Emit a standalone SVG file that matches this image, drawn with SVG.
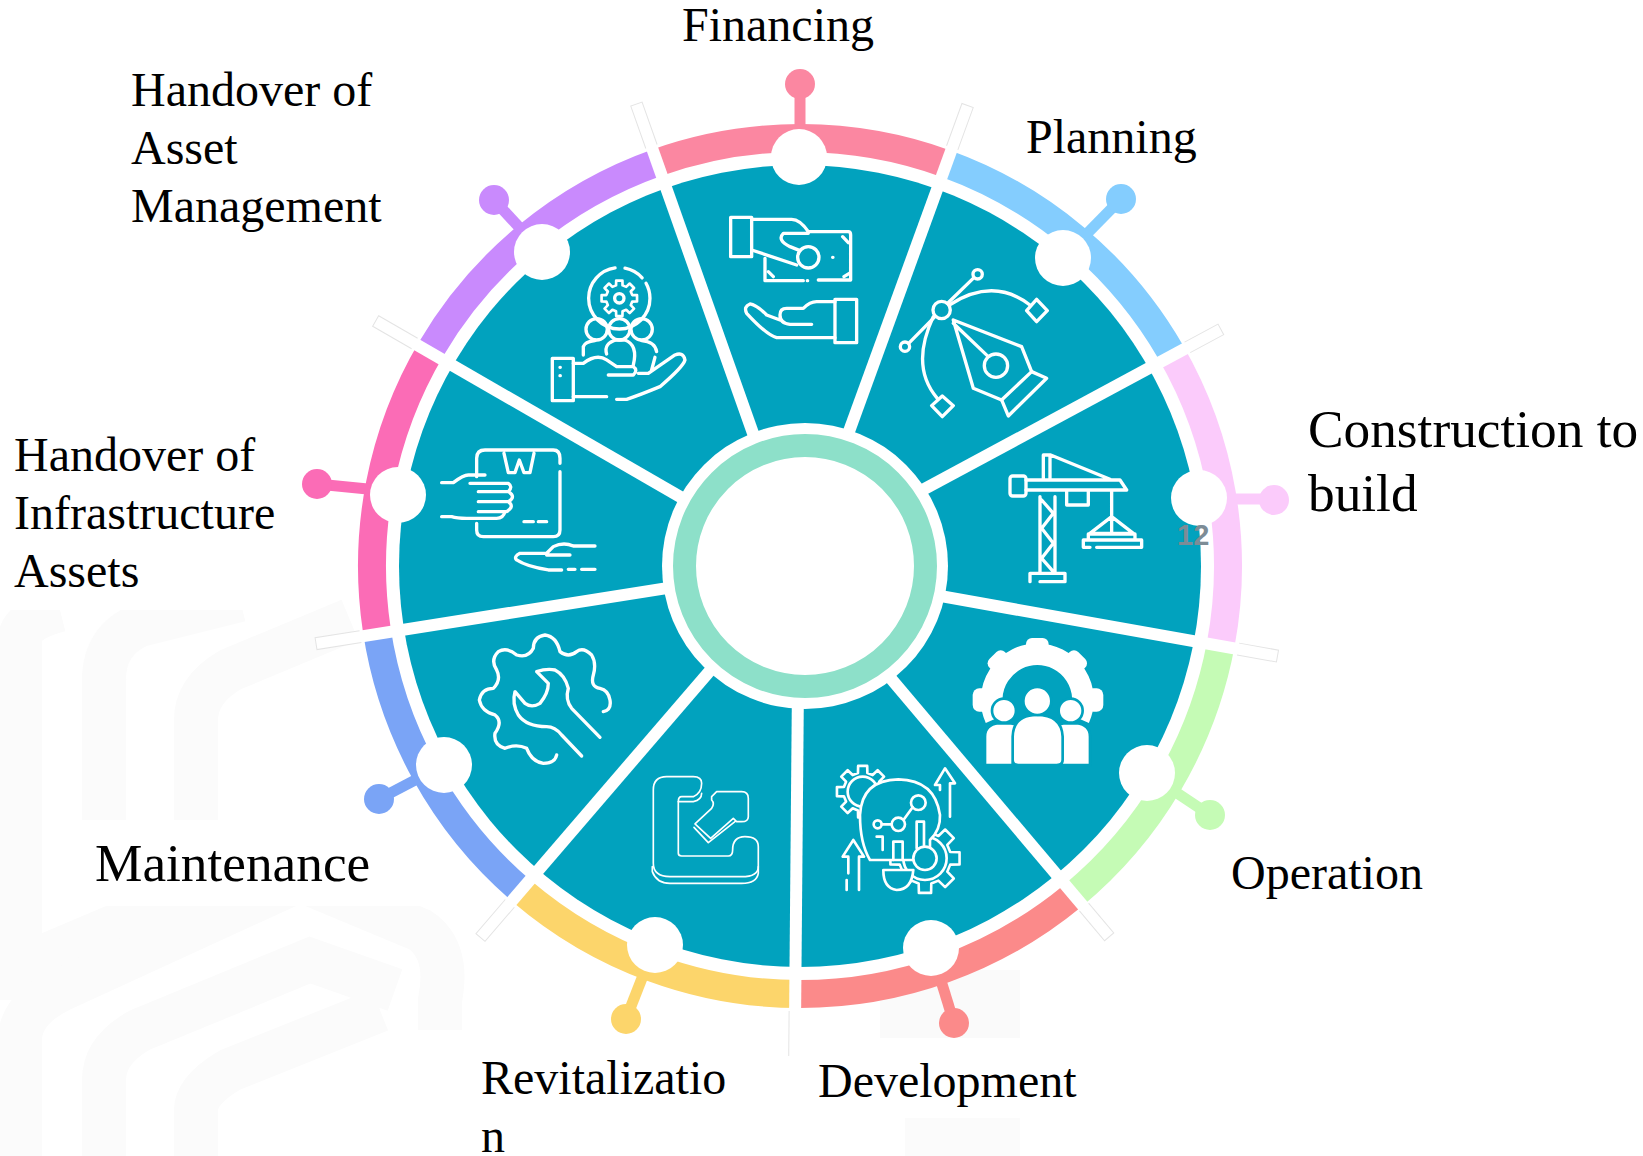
<svg xmlns="http://www.w3.org/2000/svg" xmlns:xlink="http://www.w3.org/1999/xlink" width="1643" height="1156" viewBox="0 0 1643 1156">
<style>
text{font-family:"Liberation Serif","Times New Roman",serif;fill:#000}
.t48{font-size:48px}.t53{font-size:53.3px}
.arc{fill:none;stroke-width:28}
.stem{stroke-width:11;stroke-linecap:butt}
.dot{fill:#fff}
.ic{fill:none;stroke:#fff;stroke-width:10;stroke-linecap:round;stroke-linejoin:round}
.thin{stroke-width:5}
.wm{fill:none;stroke:#fbfbfb;stroke-width:44}
.div{fill:#fff}
.ext{stroke:#e4e4e4;stroke-width:1;fill:none}
</style>
<defs>
<path id="gear" d="M-9.7,-38.8L-9.4,-53.2L9.4,-53.2L9.7,-38.8L20.6,-34.3L31,-44.3L44.3,-31L34.3,-20.6L38.8,-9.7L53.2,-9.4L53.2,9.4L38.8,9.7L34.3,20.6L44.3,31L31,44.3L20.6,34.3L9.7,38.8L9.4,53.2L-9.4,53.2L-9.7,38.8L-20.6,34.3L-31,44.3L-44.3,31L-34.3,20.6L-38.8,9.7L-53.2,9.4L-53.2,-9.4L-38.8,-9.7L-34.3,-20.6L-44.3,-31L-31,-44.3L-20.6,-34.3Z"/>
</defs>
<rect width="1643" height="1156" fill="#fff"/>
<g id="watermark">
<path class="wm" d="M20,1000V640Q20,620 60,610"/>
<path class="wm" d="M104,860V680Q104,640 140,625L240,600"/>
<path class="wm" d="M196,860V720Q196,690 230,670L350,620"/>
<path class="wm" d="M0,975L200,890"/>
<path class="wm" d="M20,1156V1040Q20,1010 60,990L300,880L420,930Q450,950 440,1000V1030"/>
<path class="wm" d="M104,1156V1080Q104,1050 140,1030L310,960L395,990"/>
<path class="wm" d="M196,1156V1110Q196,1090 230,1070L380,1010"/>
<rect x="880" y="970" width="140" height="68" fill="#fafafa"/>
<rect x="905" y="1118" width="115" height="38" fill="#fbfbfb"/>
<rect x="0" y="440" width="304" height="170" fill="#fff"/>
<rect x="82" y="820" width="345" height="86" fill="#fff"/>
<rect x="462" y="1040" width="278" height="116" fill="#fff"/>
</g>
<circle id="disk" cx="800" cy="566" r="401" fill="#01a2be"/>
<g id="financing">
<path class="arc" stroke="#fb87a1" d="M657.1,162.6A428,428 0 0 1 946.4,163.8"/>
<line class="stem" stroke="#fb87a1" x1="800" y1="157" x2="800" y2="84"/><circle cx="800" cy="84" r="15" fill="#fb87a1"/>
<circle class="dot" cx="799" cy="157" r="28"/>
<g class="ic" transform="translate(600,60) scale(.3333)">
<rect x="392" y="472" width="63" height="118"/>
<path d="M455,478H575Q600,478 625,515H745Q752,515 752,525V660H655M610,662H495V595M455,570L590,615M625,520H550Q530,540 570,560L600,572"/>
<circle cx="625" cy="592" r="32"/>
<path d="M728,530L745,548M505,635L520,650M732,650L748,640M698,592h1M622,662h1"/>
<rect x="705" y="718" width="65" height="130"/>
<path d="M705,725H650Q630,725 610,745H560Q540,745 540,765Q540,790 570,793H635M705,833H530Q500,825 440,760Q430,740 450,732Q470,735 500,765L540,780"/>
</g>
<text class="t48" x="682" y="41">Financing</text>
</g>
<g id="planning">
<path class="arc" stroke="#84cdfe" d="M946.4,163.8A428,428 0 0 1 1170.7,352"/>
<line class="stem" stroke="#84cdfe" x1="1063" y1="258" x2="1121" y2="199"/><circle cx="1121" cy="199" r="15" fill="#84cdfe"/>
<circle class="dot" cx="1063" cy="258" r="28"/>
<g class="ic" transform="translate(600,60) scale(.3333)">
<path d="M1060,780L1265,860L1295,935L1205,1020L1120,985ZM1060,790L1165,890"/>
<circle cx="1188" cy="917" r="35"/>
<path d="M1205,1020L1225,1068L1340,955L1295,935"/>
<circle cx="1025" cy="750" r="26"/>
<path d="M1043,730L1122,653M1005,770L926,850"/>
<circle cx="1133" cy="643" r="14"/><circle cx="915" cy="860" r="14"/>
<path d="M1048,735Q1180,650 1290,735M1000,770Q930,920 1012,1015"/>
<path d="M1310,718L1342,752L1310,785L1280,752ZM1027,1008L1060,1037L1027,1070L995,1037Z"/>
</g>
<text class="t48" x="1026" y="153">Planning</text>
</g>
<g id="construction">
<path class="arc" stroke="#fbcbfb" d="M1170.7,352A428,428 0 0 1 1220.8,644"/>
<line class="stem" stroke="#fbcbfb" x1="1199" y1="499" x2="1274" y2="499"/><circle cx="1274" cy="500" r="15" fill="#fbcbfb"/>
<circle class="dot" cx="1199" cy="498" r="28"/>
<g class="ic" transform="translate(940,400) scale(.3333)">
<rect x="210" y="228" width="48" height="60" rx="8"/>
<path d="M258,240H540L560,270H258M310,240V165H332L510,238M330,170V240M380,270V315H445V270M515,270V350M515,350L450,400H580ZM515,355V400M445,402H585V420H445ZM430,420H605V442H470M430,420V442H450"/>
<path d="M300,290V515M345,290V515M305,300L340,340L305,385L340,430L305,475L340,515M270,545V520H375V545H300"/>
</g>
<text class="t53" x="1308" y="447">Construction to</text>
<text class="t53" x="1308" y="511">build</text>
</g>
<g id="operation">
<path class="arc" stroke="#c5fbb5" d="M1220.8,644A428,428 0 0 1 1072.3,896.2"/>
<line class="stem" stroke="#c5fbb5" x1="1147" y1="773" x2="1210" y2="815"/><circle cx="1210" cy="815" r="15" fill="#c5fbb5"/>
<circle class="dot" cx="1147" cy="773" r="28"/>
<g transform="translate(940,400) scale(.3333)" fill="#fff">
<path d="M167,956A137,137 0 1 1 417,956" fill="none" stroke="#fff" stroke-width="65"/>
<rect x="258" y="714" width="68" height="44" rx="18"/>
<rect x="142" y="760" width="66" height="46" rx="18" transform="rotate(-45 175 783)"/>
<rect x="376" y="760" width="66" height="46" rx="18" transform="rotate(45 409 783)"/>
<rect x="98" y="865" width="50" height="70" rx="20"/>
<rect x="440" y="865" width="50" height="70" rx="20"/>
<path d="M135,1095V1010Q135,975 175,970H210Q250,975 250,1010V1095Z M335,1095V1010Q335,975 375,970H410Q450,975 450,1010V1095Z" stroke="#01a2be" stroke-width="8"/>
<path d="M218,1095V1010Q220,945 290,945Q365,945 368,1010V1080Q368,1095 350,1095H235Q218,1095 218,1080Z" stroke="#01a2be" stroke-width="8"/>
<circle cx="192" cy="932" r="36" stroke="#01a2be" stroke-width="8"/>
<circle cx="392" cy="932" r="36" stroke="#01a2be" stroke-width="8"/>
<circle cx="292" cy="903" r="42" stroke="#01a2be" stroke-width="8"/>
</g>
<text class="t48" x="1231" y="889">Operation</text>
</g>
<g id="development">
<path class="arc" stroke="#fb8a8a" d="M1072.3,896.2A428,428 0 0 1 800,994"/>
<line class="stem" stroke="#fb8a8a" x1="931" y1="948" x2="954" y2="1023"/><circle cx="954" cy="1023" r="15" fill="#fb8a8a"/>
<circle class="dot" cx="931" cy="948" r="28"/>
<g class="ic" transform="translate(780,720) scale(.3333)" style="stroke-width:8">
<use href="#gear" transform="translate(248,215) scale(1.45)" fill="#01a2be" style="stroke-width:5.5"/>
<circle cx="248" cy="215" r="45" stroke-width="8"/>
<use href="#gear" transform="translate(435,415) scale(1.95)" fill="#01a2be" style="stroke-width:4"/>
<circle cx="435" cy="415" r="65"/>
<path d="M310,420H270Q240,370 240,285Q245,180 355,178Q465,180 480,285Q482,330 450,360V420Z" fill="#01a2be"/>
<circle cx="435" cy="415" r="35" fill="#01a2be"/>
<circle cx="293" cy="313" r="12"/><circle cx="355" cy="313" r="20"/><circle cx="415" cy="248" r="22"/>
<path d="M305,313H335M372,298L398,262"/>
<path d="M290,350H308V390M340,420V365H368V420M410,385V305H432V375"/>
<path d="M310,450H400Q395,510 350,510Q310,505 310,450Z" fill="#01a2be"/>
<path d="M510,290V190H525L495,145L465,195H480V210M200,510V480M237,510V410H252L220,360L188,410H205V460"/>
</g>
<text class="t48" x="818" y="1097">Development</text>
</g>
<g id="revitalization">
<path class="arc" stroke="#fcd56b" d="M800,994A428,428 0 0 1 522.1,891.5"/>
<line class="stem" stroke="#fcd56b" x1="655" y1="945" x2="626" y2="1019"/><circle cx="626" cy="1019" r="15" fill="#fcd56b"/>
<circle class="dot" cx="655" cy="945" r="28"/>
<g class="ic thin" transform="translate(440,620) scale(.3333)">
<path d="M640,510Q640,470 680,470H760Q785,470 785,490Q785,520 760,530H725Q715,530 715,545V700Q715,708 725,708H865Q878,708 878,690Q878,650 915,650Q955,650 955,680V740Q955,770 905,770H690Q640,770 640,730Z"/>
<path d="M637,740V755Q650,790 690,790H905Q950,790 955,760V740M715,545H760Q785,540 785,520"/>
<path d="M815,530L830,515H905Q925,515 925,535V590Q925,605 905,605H890L880,595L812,655L765,612L815,565Q825,550 815,540ZM762,622L805,668L885,605"/>
</g>
<text class="t48" x="481" y="1094">Revitalizatio</text>
<text class="t48" x="481" y="1152">n</text>
</g>
<g id="maintenance">
<path class="arc" stroke="#7aa4f6" d="M522.1,891.5A428,428 0 0 1 376.7,629.3"/>
<line class="stem" stroke="#7aa4f6" x1="444" y1="765" x2="379" y2="799"/><circle cx="379" cy="799" r="15" fill="#7aa4f6"/>
<circle class="dot" cx="444" cy="765" r="28"/>
<g class="ic" transform="translate(440,620) scale(.3333)">
<path d="M490,275Q515,270 510,240Q505,210 480,205Q450,200 460,165Q470,130 455,105Q430,80 410,95Q385,115 360,95Q350,50 315,45Q280,50 280,85Q265,115 230,105Q200,80 175,95Q150,120 170,150Q185,180 160,205Q125,205 118,240Q125,275 165,285Q190,305 165,340Q160,375 195,385Q230,370 260,385Q275,425 310,430Q345,430 350,405"/>
<path d="M480,352L395,265Q375,240 385,205Q375,165 345,150Q320,145 290,155L325,190Q325,220 300,250Q275,265 255,250L225,215Q215,250 235,285Q260,320 320,320Q345,320 365,345L425,408"/>
</g>
<text class="t53" x="95" y="881">Maintenance</text>
</g>
<g id="infrastructure">
<path class="arc" stroke="#fb6cb6" d="M376.7,629.3A428,428 0 0 1 431.2,348.8"/>
<line class="stem" stroke="#fb6cb6" x1="398" y1="492" x2="317" y2="484"/><circle cx="317" cy="484" r="15" fill="#fb6cb6"/>
<circle class="dot" cx="398" cy="495" r="28"/>
<g class="ic" transform="translate(340,170) scale(.3333)">
<path d="M660,905V1080Q660,1100 640,1100H430Q410,1100 410,1080V1060M410,920V865Q410,840 435,840H640Q660,840 660,865V880M492,850L505,908H525L538,870L552,908H570L582,850M552,1055H580M595,1055H620"/>
<path d="M305,938H340Q370,915 385,915H435M390,940H505Q520,950 505,965H415M505,965Q530,980 505,995H415M505,995Q525,1010 500,1025H415M495,1025Q490,1045 470,1045H380Q350,1045 335,1040H305"/>
<path d="M765,1128H700Q670,1115 640,1130L620,1150H540Q520,1160 530,1170Q560,1190 625,1200H665M685,1198H705M725,1198H765M620,1155H690"/>
</g>
<text class="t48" x="14" y="471">Handover of</text>
<text class="t48" x="14" y="529">Infrastructure</text>
<text class="t48" x="14" y="587">Assets</text>
</g>
<g id="asset">
<path class="arc" stroke="#c98afd" d="M431.2,348.8A428,428 0 0 1 657.1,162.6"/>
<line class="stem" stroke="#c98afd" x1="542" y1="252" x2="494" y2="200"/><circle cx="494" cy="200" r="15" fill="#c98afd"/>
<circle class="dot" cx="542" cy="252" r="28"/>
<g class="ic" transform="translate(340,170) scale(.3333)">
<circle cx="838" cy="385" r="92" stroke-dasharray="420 30 60 20"/>
<use href="#gear" transform="translate(838,385)" style="stroke-width:8"/>
<circle cx="838" cy="385" r="14"/>
<path d="M730,555V530Q735,515 765,512M905,512Q945,515 950,545M945,562L935,600"/>
<circle cx="770" cy="478" r="32"/><circle cx="905" cy="478" r="32"/><circle cx="838" cy="478" r="32"/>
<rect x="637" y="565" width="63" height="127"/>
<path d="M660,592h1M660,617h1"/>
<path d="M800,552Q790,520 830,510H855Q895,525 880,585"/>
<path d="M700,580H730Q770,550 800,570L830,590H880Q895,600 880,615H805M895,610H925L1005,555Q1030,545 1035,570Q1030,590 960,650Q900,675 860,688H830M700,680H800"/>
</g>
<text class="t48" x="131" y="106">Handover of</text>
<text class="t48" x="131" y="164">Asset</text>
<text class="t48" x="131" y="222">Management</text>
</g>
<g id="connectors">
<g transform="translate(800,566) rotate(-19.5)"><rect class="div" x="-6" y="-490" width="12" height="360"/><path class="ext" d="M-6,-445V-490H6V-445"/></g>
<g transform="translate(800,566) rotate(20)"><rect class="div" x="-6" y="-490" width="12" height="360"/><path class="ext" d="M-6,-445V-490H6V-445"/></g>
<g transform="translate(800,556) rotate(61.7)"><rect class="div" x="-6" y="-478" width="12" height="360"/><path class="ext" d="M-6,-440V-478H6V-440"/></g>
<g transform="translate(800,571) rotate(100.1)"><rect class="div" x="-6" y="-485" width="12" height="360"/><path class="ext" d="M-6,-445V-485H6V-445"/></g>
<g transform="translate(800,571) rotate(139.8)"><rect class="div" x="-6" y="-479" width="12" height="360"/><path class="ext" d="M-6,-440V-479H6V-440"/></g>
<g transform="translate(799,566) rotate(180.5)"><rect class="div" x="-6" y="-490" width="12" height="360"/><path class="ext" d="M6,-445V-490"/></g>
<g transform="translate(800,566) rotate(220.7)"><rect class="div" x="-6" y="-490" width="12" height="360"/><path class="ext" d="M-6,-445V-490H6V-445"/></g>
<g transform="translate(800,567) rotate(261)"><rect class="div" x="-6" y="-490" width="12" height="360"/><path class="ext" d="M-6,-445V-490H6V-445"/></g>
<g transform="translate(800,566) rotate(300)"><rect class="div" x="-6" y="-490" width="12" height="360"/><path class="ext" d="M-6,-445V-490H6V-445"/></g>
</g>
<g id="hub">
<circle cx="805" cy="566" r="143" fill="#fff"/>
<circle cx="805" cy="566" r="120.5" fill="#fff" stroke="#8de0c9" stroke-width="23"/>
</g>
<text id="page-number" x="1177" y="545" font-size="29" font-weight="700" style="font-family:'Liberation Sans',Arial,sans-serif;fill:#7d8c96">12</text>
</svg>
